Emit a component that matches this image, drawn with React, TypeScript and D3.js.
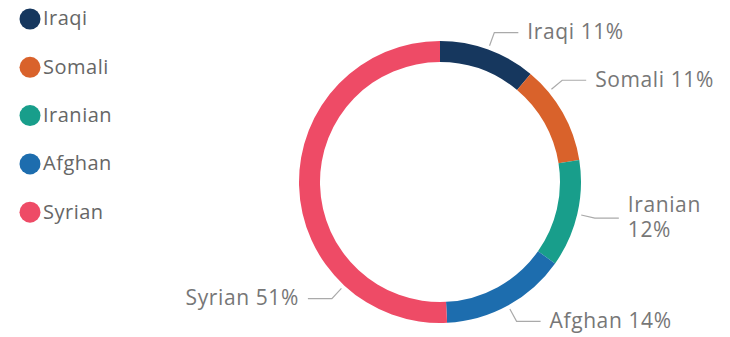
import React from "react";
import * as d3 from "d3";

const categories = ["Iraqi", "Somali", "Iranian", "Afghan", "Syrian"];
const values = [11.1, 11.4, 12.3, 14.4, 50.8];
const colors = ["#16375E", "#D9622B", "#189E8B", "#1D6DAE", "#EE4B66"];
// position of each label's leader line within its slice (0 = start, 1 = end)
const labelAnchors = [0.5, 0.25, 0.5, 0.5, 0.25];
// label text lines
const labelLines = [["Iraqi 11%"], ["Somali 11%"], ["Iranian", "12%"], ["Afghan 14%"], ["Syrian 51%"]];

const W = 730;
const H = 337;
const cx = 440;
const cy = 182;
const outerR = 141;
const innerR = 120;

export default function App() {
  const pie = d3.pie<number>().sort(null).value((d) => d);
  const arcs = pie(values);
  const arcGen = d3.arc<d3.PieArcDatum<number>>().innerRadius(innerR).outerRadius(outerR);

  const labelFont = "'Open Sans', 'Noto Sans', sans-serif";

  return (
    <div style={{ position: "absolute", left: 0, top: 0 }}>
      <svg width={W} height={H} style={{ display: "block", background: "#fff" }}>
        {/* legend */}
        {categories.map((c, i) => (
          <g key={c} transform={`translate(30, ${19 + i * 48.3})`}>
            <circle r={10.5} fill={colors[i]} />
            <text
              x={13}
              y={1}
              dominantBaseline="middle"
              fontFamily="'Open Sans', 'Noto Sans', sans-serif"
              fontSize={20}
              letterSpacing={0.5}
              fill="#666"
            >
              {c}
            </text>
          </g>
        ))}
        {/* donut */}
        <g transform={`translate(${cx}, ${cy})`}>
          {arcs.map((a, i) => (
            <path key={i} d={arcGen(a) || ""} fill={colors[i]} />
          ))}
          {arcs.map((a, i) => {
            const ang = a.startAngle + (a.endAngle - a.startAngle) * labelAnchors[i];
            const sx = Math.sin(ang);
            const sy = -Math.cos(ang);
            const p0 = [sx * 145, sy * 145];
            const p1 = [sx * 159, sy * 159];
            const right = sx >= 0;
            const p2 = [p1[0] + (right ? 24 : -24), p1[1]];
            const tx = p2[0] + (right ? 9 : -9);
            const lines = labelLines[i];
            const lh = 25;
            const y0 = p2[1] - ((lines.length - 1) * lh) / 2 + 1;
            return (
              <g key={"l" + i}>
                <polyline
                  points={`${p0[0]},${p0[1]} ${p1[0]},${p1[1]} ${p2[0]},${p2[1]}`}
                  fill="none"
                  stroke="#aaa"
                  strokeWidth={1.2}
                />
                <text
                  x={tx}
                  textAnchor={right ? "start" : "end"}
                  fontFamily={labelFont}
                  fontSize={21}
                  fill="#777"
                  letterSpacing={0.6}
                >
                  {lines.map((t, k) => (
                    <tspan key={k} x={tx} y={y0 + k * lh} dominantBaseline="middle">
                      {t}
                    </tspan>
                  ))}
                </text>
              </g>
            );
          })}
        </g>
      </svg>
    </div>
  );
}
